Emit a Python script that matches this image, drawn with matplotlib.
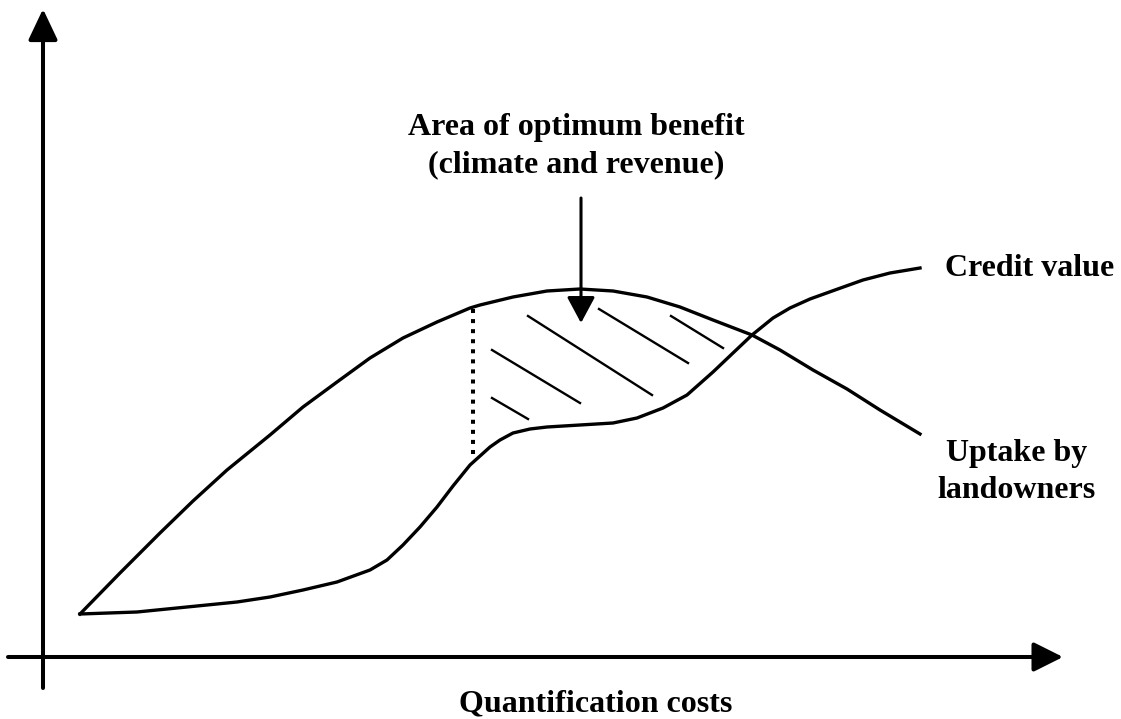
import matplotlib.pyplot as plt

# Conceptual curves (x = quantification cost, y = value)
uptake_x = [37, 77, 117, 150, 184, 227, 260, 294, 327, 360, 394, 427, 437, 470, 504, 537, 570,
            604, 637, 670, 709, 737, 770, 804, 837, 877]
uptake_y = [43, 84, 124, 156, 187, 222, 250, 275, 299, 319, 335, 349, 352, 360, 366, 368, 366,
            360, 350, 337, 322, 307, 287, 268, 247, 223]

credit_x = [37, 94, 144, 194, 227, 260, 294, 327, 344, 360, 377, 394, 410, 427, 447, 457, 470,
            487, 504, 537, 570, 594, 620, 644, 670, 690, 709, 730, 747, 767, 792, 820, 847, 877]
credit_y = [43, 45, 50, 55, 60, 67, 75, 87, 97, 112, 130, 150, 171, 192, 210, 217, 224,
            228, 230, 232, 234, 239, 249, 262, 285, 304, 322, 339, 349, 358, 367, 377, 384, 389]

# boundary of the optimum area and its hatch strokes
optimum_left = 430
optimum_top = 348
optimum_bottom = 197
hatch_x0 = [485, 556, 628, 449, 449]
hatch_y0 = [341, 348, 341, 307, 259]
hatch_x1 = [609, 645, 680, 537, 485]
hatch_y1 = [262, 294, 309, 254, 238]

font = dict(family="Liberation Serif", weight="bold", size=23)

fig = plt.figure(figsize=(11.21, 7.19), dpi=100)
ax = fig.add_axes([0, 0, 1, 1])
ax.set_xlim(-43, 1078)
ax.set_ylim(-62, 657)
ax.axis("off")

# axes with arrow heads
ax.annotate("", xy=(0, 648), xytext=(0, -31),
            arrowprops=dict(arrowstyle="-|>,head_length=0.95,head_width=0.45", lw=2.9,
                            color="black", mutation_scale=20, shrinkA=0, shrinkB=0))
ax.annotate("", xy=(1020, 0), xytext=(-35, 0),
            arrowprops=dict(arrowstyle="-|>,head_length=0.9,head_width=0.45", lw=2.9,
                            color="black", mutation_scale=20, shrinkA=0, shrinkB=0))

ax.plot(uptake_x, uptake_y, color="black", lw=2.4, solid_joinstyle="round")
ax.plot(credit_x, credit_y, color="black", lw=2.4, solid_joinstyle="round")

ax.plot([optimum_left, optimum_left], [optimum_top, optimum_bottom], color="black",
        lw=2.9, linestyle=(0, (1, 1.5)), dash_capstyle="butt")
for x0, y0, x1, y1 in zip(hatch_x0, hatch_y0, hatch_x1, hatch_y1):
    ax.plot([x0, x1], [y0, y1], color="black", lw=1.7)

# pointer to the optimum area
ax.annotate("", xy=(538, 334), xytext=(538, 459),
            arrowprops=dict(arrowstyle="-|>,head_length=0.8,head_width=0.43", lw=2.2,
                            color="black", mutation_scale=20, shrinkA=0, shrinkB=0))

ax.text(533, 511, "Area of optimum benefit\n(climate and revenue)", ha="center",
        va="center", multialignment="center", linespacing=1.38, **font)
ax.text(987, 388, "Credit value", ha="center", va="center", **font)
ax.text(974, 185, "Uptake by\nlandowners", ha="center", va="center",
        multialignment="center", linespacing=1.4, **font)
ax.text(553, -54, "Quantification costs", ha="center", va="baseline", **font)

fig.savefig("out.png", dpi=100)
